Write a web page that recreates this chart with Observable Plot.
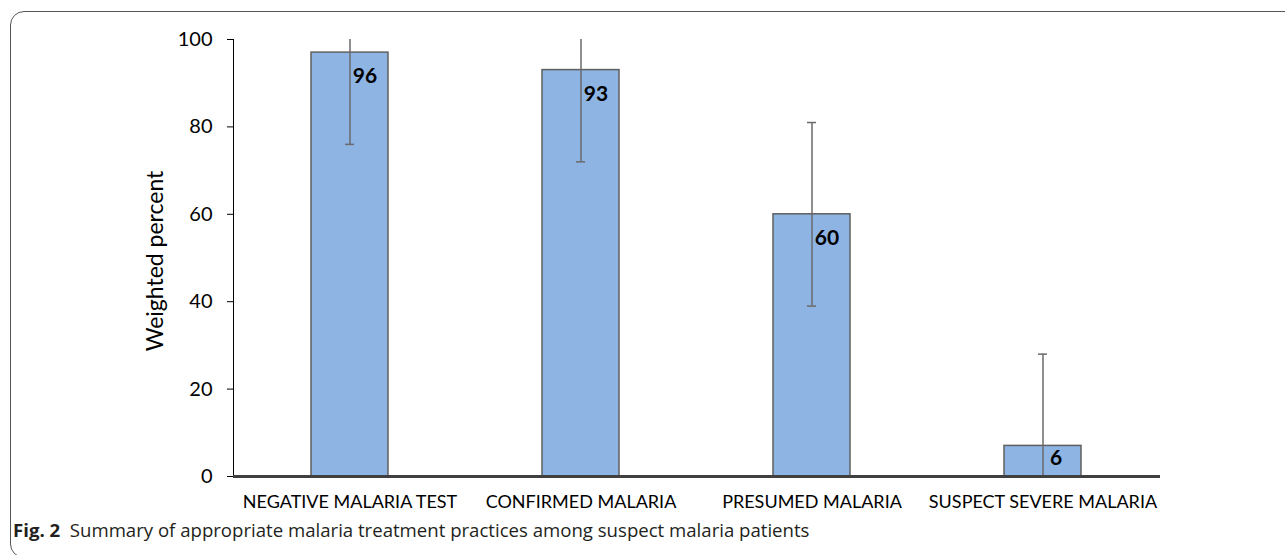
<!DOCTYPE html>
<html><head><meta charset="utf-8">
<script src="https://cdn.jsdelivr.net/npm/d3@7"></script>
<script src="https://cdn.jsdelivr.net/npm/@observablehq/plot@0.6"></script>
<style>
body{margin:0;background:#fff;width:1285px;height:555px;overflow:hidden;position:relative;}
#frame{position:absolute;left:10px;top:11px;width:1320px;height:547px;border:1.5px solid #555;border-radius:14px;box-sizing:border-box;}
#chart{position:absolute;left:0;top:0;}
#caption{position:absolute;left:13px;top:517px;font-family:"Open Sans";font-size:18.6px;color:#231f20;white-space:nowrap;}
#chart g[aria-label="y-axis tick label"]{font-size:20px;}
#chart g[aria-label="x-axis tick label"]{font-size:18px;}
</style></head><body>
<div id="frame"></div>
<div id="chart"></div>
<div id="caption"><b>Fig. 2</b>&nbsp; Summary of appropriate malaria treatment practices among suspect malaria patients</div>
<script>
const categories = ["NEGATIVE MALARIA TEST", "CONFIRMED MALARIA", "PRESUMED MALARIA", "SUSPECT SEVERE MALARIA"];
const values = [97, 93, 60, 7];
const labels = ["96", "93", "60", "6"];
const errLow = [76, 72, 39, 0];
const errHigh = [118, 114, 81, 28];
const yTicks = [0, 20, 40, 60, 80, 100];
const yTitle = "Weighted percent";

const data = categories.map((c, i) => ({category: c, value: values[i], label: labels[i], lo: errLow[i], hi: errHigh[i]}));

const plot = Plot.plot({
  width: 1285, height: 520,
  marginLeft: 233, marginRight: 125, marginTop: 39, marginBottom: 44,
  style: {fontFamily: "Lato", background: "transparent", color: "#000", overflow: "visible"},
  x: {domain: categories, paddingInner: 0.665, paddingOuter: 0.3325, tickSize: 0, tickPadding: 19, label: null},
  y: {domain: [0, 100], ticks: yTicks, tickSize: 6, tickPadding: 15, label: null, line: true},
  marks: [
    Plot.barY(data, {x: "category", y: "value", fill: "#8EB4E3", stroke: "#5f5f5f", strokeWidth: 1.5}),
    Plot.ruleX(data, {x: "category", y1: "lo", y2: "hi", stroke: "#6a6a6a", strokeWidth: 1.5, clip: true}),
    Plot.tickY(data, {filter: d => d.hi <= 100, x: "category", y: "hi", stroke: "#6a6a6a", strokeWidth: 1.5, insetLeft: 34, insetRight: 34}),
    Plot.tickY(data, {filter: d => d.lo > 0, x: "category", y: "lo", stroke: "#6a6a6a", strokeWidth: 1.5, insetLeft: 34, insetRight: 34}),
    Plot.ruleY([0], {stroke: "#404040", strokeWidth: 3}),
    Plot.text(data, {filter: d => d.value > 20, x: "category", y: "value", text: "label", dx: 15, dy: 24, fontWeight: "bold", fontSize: 21, fill: "#000"}),
    Plot.text(data, {filter: d => d.value <= 20, x: "category", y: "value", text: "label", dx: 13, dy: 12, fontWeight: "bold", fontSize: 21, fill: "#000"}),
    Plot.text([yTitle], {frameAnchor: "left", textAnchor: "middle", rotate: -90, dx: -78, dy: 3, fontSize: 23, fill: "#000"})
  ]
});
document.getElementById("chart").appendChild(plot);
</script>
</body></html>
